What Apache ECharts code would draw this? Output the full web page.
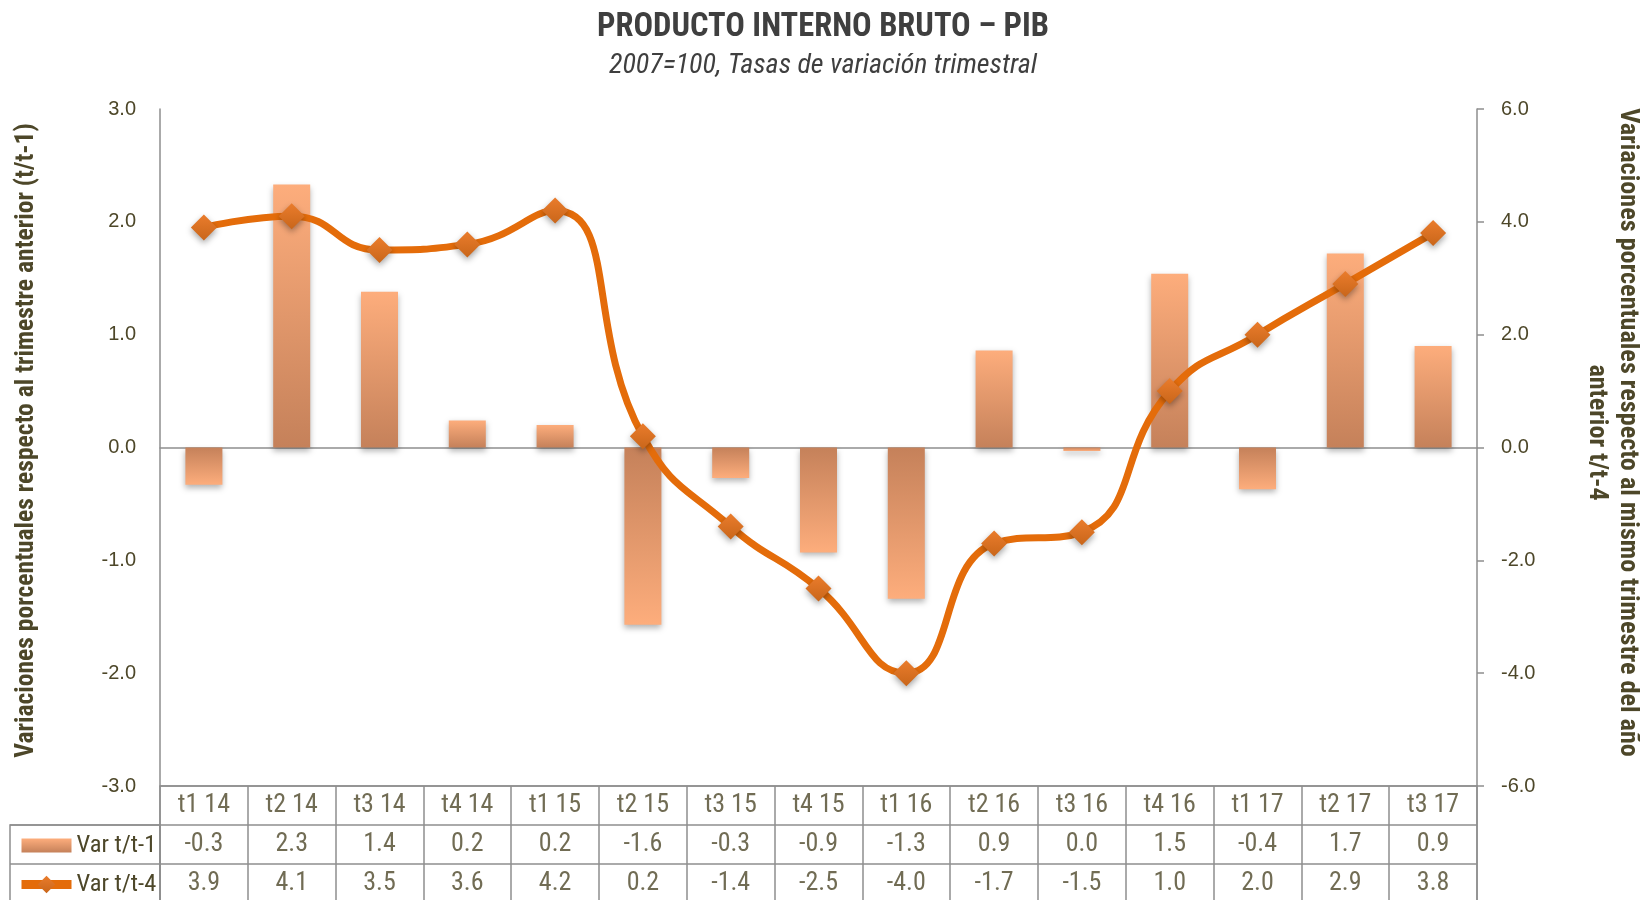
<!DOCTYPE html>
<html><head><meta charset="utf-8">
<script src="https://cdn.jsdelivr.net/npm/echarts@6/dist/echarts.min.js"></script>
<style>html,body{margin:0;padding:0;background:#fff}#c{width:1646px;height:900px}</style>
</head><body><div id="c"></div>
<script>
const categories = ['t1 14','t2 14','t3 14','t4 14','t1 15','t2 15','t3 15','t4 15','t1 16','t2 16','t3 16','t4 16','t1 17','t2 17','t3 17'];
const varT1 = [-0.33, 2.33, 1.38, 0.24, 0.2, -1.57, -0.27, -0.93, -1.34, 0.86, -0.03, 1.54, -0.37, 1.72, 0.9];
const varT4 = [3.9, 4.1, 3.5, 3.6, 4.2, 0.2, -1.4, -2.5, -4.0, -1.7, -1.5, 1.0, 2.0, 2.9, 3.8];
const seriesNames = ['Var t/t-1', 'Var t/t-4'];
const leftAxis = {min: -3, max: 3, interval: 1};
const rightAxis = {min: -6, max: 6, interval: 2};
const titleText = 'PRODUCTO INTERNO BRUTO – PIB';
const subtitleText = '2007=100, Tasas de variación trimestral';
const leftName = 'Variaciones porcentuales respecto al trimestre anterior (t/t-1)';
const rightName = 'Variaciones porcentuales respecto al mismo trimestre del año\nanterior t/t-4';

const NARROW = "'Roboto Condensed','Liberation Sans Narrow','Arial Narrow',sans-serif";
const REG = "'Liberation Sans',Arial,sans-serif";
const TXT = '#4D4729';
const GRID_LINE = '#8E8E8E';
const barTop = '#FDAD7C', barBase = '#C5815A';
const lineColor = '#E46C0A';

function fmt(v){ let s = v.toFixed(1); if (s === '-0.0') s = '0.0'; return s; }

const tableData = [];
categories.forEach((c, i) => {
  tableData.push([i, 0, c]);
  tableData.push([i, 1, fmt(varT1[i])]);
  tableData.push([i, 2, fmt(varT4[i])]);
});

const chart = echarts.init(document.getElementById('c'), null, {renderer: 'canvas'});
chart.setOption({
  backgroundColor: '#fff',
  animation: false,
  title: {
    text: titleText, subtext: subtitleText, left: 'center', top: 6, itemGap: 8,
    textStyle: {fontFamily: NARROW, fontWeight: 'bold', fontSize: 32.5, color: '#3F3F3F'},
    subtextStyle: {fontFamily: NARROW, fontStyle: 'italic', fontSize: 28, color: '#3F3F3F'}
  },
  legend: {
    orient: 'vertical', left: 12, top: 828, height: 120, itemGap: 14, itemWidth: 50, itemHeight: 22,
    textStyle: {fontFamily: NARROW, fontSize: 24.5, color: TXT},
    data: [
      {name: seriesNames[0], icon: 'path://M0,4 L50,4 L50,18 L0,18 Z', itemStyle: {color: new echarts.graphic.LinearGradient(0,0,0,1,[{offset:0,color:barTop},{offset:1,color:barBase}])}},
      {name: seriesNames[1], lineStyle: {width: 9, color: lineColor}}
    ]
  },
  grid: [
    {left: 160, right: 169, top: 109, bottom: 114, outerBoundsMode: 'none', containLabel: false},
    {left: 160, right: 169, top: 786, height: 117, show: true, borderColor: GRID_LINE, borderWidth: 1.5, outerBoundsMode: 'none'},
    {left: 10, width: 150, top: 825, height: 78, show: true, borderColor: GRID_LINE, borderWidth: 1.5, outerBoundsMode: 'none'}
  ],
  xAxis: [
    {type: 'category', gridIndex: 0, data: categories, axisLine: {onZero: true, lineStyle: {color: GRID_LINE, width: 1.5}}, axisTick: {show: false}, axisLabel: {show: false}},
    {type: 'category', gridIndex: 1, data: categories, axisLine: {show: false}, axisTick: {show: false}, axisLabel: {show: false}, splitLine: {show: true, lineStyle: {color: GRID_LINE, width: 1.5}}},
    {type: 'value', gridIndex: 2, show: false}
  ],
  yAxis: [
    {type: 'value', gridIndex: 0, position: 'left', min: leftAxis.min, max: leftAxis.max, interval: leftAxis.interval,
      axisLine: {show: true, lineStyle: {color: GRID_LINE, width: 1.5}}, axisTick: {show: false}, splitLine: {show: false},
      axisLabel: {formatter: v => v.toFixed(1), fontFamily: REG, fontSize: 20, color: TXT, margin: 24},
      name: leftName, nameLocation: 'middle', nameGap: 120,
      nameTextStyle: {fontFamily: NARROW, fontWeight: 'bold', fontSize: 25.6, color: TXT, padding: [0, 0, 0, 14]}},
    {type: 'value', gridIndex: 0, position: 'right', min: rightAxis.min, max: rightAxis.max, interval: rightAxis.interval,
      axisLine: {show: true, lineStyle: {color: GRID_LINE, width: 1.5}}, axisTick: {show: true, length: 7, lineStyle: {color: GRID_LINE, width: 1.5}}, splitLine: {show: false},
      axisLabel: {formatter: v => v.toFixed(1), fontFamily: REG, fontSize: 20, color: TXT, margin: 24},
      name: rightName, nameLocation: 'middle', nameGap: 104, nameRotate: -90,
      nameTextStyle: {fontFamily: NARROW, fontWeight: 'bold', fontSize: 26.2, color: TXT, lineHeight: 31, padding: [0, 30, 0, 0]}},
    {type: 'category', gridIndex: 1, data: ['h', 'r1', 'r2'], inverse: true, axisLine: {show: false}, axisTick: {show: false}, axisLabel: {show: false},
      splitLine: {show: true, lineStyle: {color: GRID_LINE, width: 1.5}}},
    {type: 'category', gridIndex: 2, data: ['r1', 'r2'], inverse: true, axisLine: {show: false}, axisTick: {show: false}, axisLabel: {show: false},
      splitLine: {show: true, lineStyle: {color: GRID_LINE, width: 1.5}}}
  ],
  series: [
    {name: seriesNames[0], type: 'bar', xAxisIndex: 0, yAxisIndex: 0, data: varT1, barWidth: 37,
      itemStyle: {
        color: function(p){
          return new echarts.graphic.LinearGradient(0,0,0,1, p.value >= 0
            ? [{offset:0,color:barTop},{offset:1,color:barBase}]
            : [{offset:0,color:barBase},{offset:1,color:barTop}]);
        },
        shadowBlur: 6, shadowColor: 'rgba(0,0,0,0.3)', shadowOffsetY: 3
      }},
    {name: seriesNames[1], type: 'line', xAxisIndex: 0, yAxisIndex: 1, data: varT4, smooth: 0.5, z: 5,
      symbol: 'diamond', symbolSize: 26,
      lineStyle: {color: lineColor, width: 7},
      itemStyle: {color: new echarts.graphic.LinearGradient(0,0,0,1,[{offset:0,color:'#EA7C2C'},{offset:1,color:'#C9661A'}]),
        shadowBlur: 6, shadowColor: 'rgba(0,0,0,0.35)', shadowOffsetY: 3}},
    {name: 'table', type: 'scatter', xAxisIndex: 1, yAxisIndex: 2, data: tableData, symbolSize: 1, silent: true,
      itemStyle: {color: 'rgba(0,0,0,0)'},
      label: {show: true, position: 'inside', formatter: p => p.data[2], fontFamily: NARROW, fontSize: 26, color: TXT}}
  ]
});
</script></body></html>
